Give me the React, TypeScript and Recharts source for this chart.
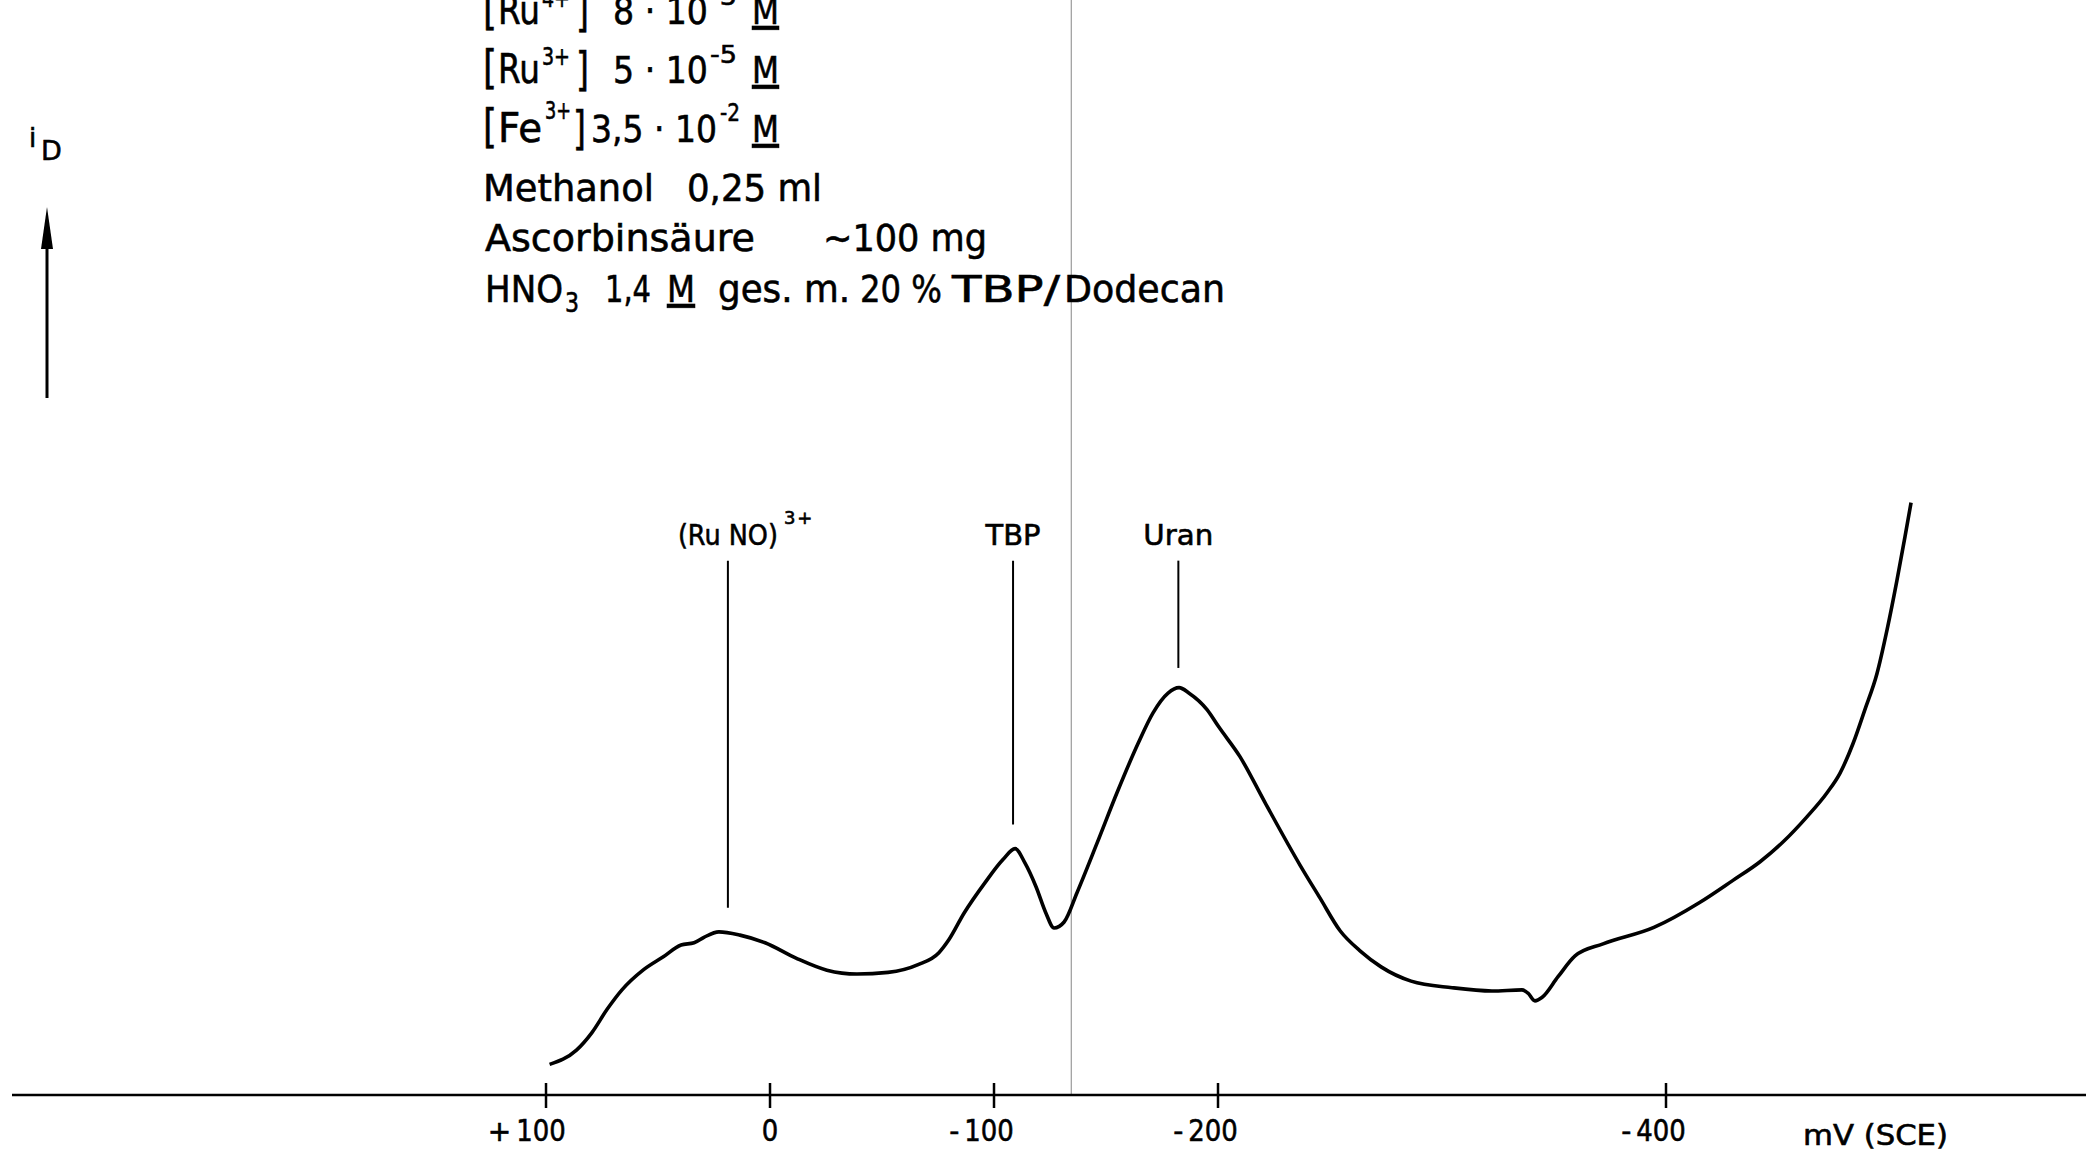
import React from 'react';
import { LineChart, Line, XAxis, YAxis, ReferenceLine, ReferenceDot } from 'recharts';

// Potential (mV vs SCE) and diffusion current i_D (arbitrary units, 0..100)
const potential = [
  98.4, 86.4, 79.5, 72.8, 66.1, 56.7, 47.8, 39.7, 33.9, 29.5, 22.8, 13.4, 2.2, -11.6, -25.4, -38.8,
  -52.7, -66.1, -75.4, -79.9, -86.6, -96.0, -104.0, -109.4, -113.8, -118.8, -123.2, -126.8, -131.3,
  -137.1, -146.0, -154.9, -164.3, -171.0, -177.7, -182.6, -187.1, -195.1, -200.4, -209.8, -221.0,
  -236.6, -245.5, -254.5, -263.8, -272.8, -286.2, -304.5, -322.3, -335.7, -338.4, -341.5, -344.6,
  -351.8, -359.4, -371.9, -394.6, -415.2, -429.9, -442.0, -452.2, -462.9, -471.9, -477.7, -483.5,
  -488.8, -494.2, -498.7, -503.1, -506.7, -509.4,
];
const current = [
  2.8, 4.1, 5.7, 7.8, 9.6, 11.4, 12.6, 13.7, 13.9, 14.4, 14.9, 14.6, 13.9, 12.5, 11.4, 11.05,
  11.2, 11.9, 13.0, 14.2, 16.6, 19.4, 21.5, 22.5, 21.2, 19.0, 16.6, 15.25, 15.8,
  18.5, 23.0, 27.6, 32.1, 34.9, 36.7, 37.2, 36.7, 35.2, 33.6, 30.9, 26.7,
  21.0, 18.0, 15.0, 13.1, 11.7, 10.4, 9.8, 9.5, 9.6, 9.3, 8.6, 8.9,
  10.8, 12.7, 13.8, 15.3, 17.6, 19.6, 21.3, 23.1, 25.4, 27.6, 29.4, 32.1,
  35.2, 38.5, 42.5, 47.0, 51.0, 54.1,
];

const xTicks = [100, 0, -100, -200, -400];
const xTickLabels = ['+100', '0', '-100', '-200', '-400'];

const peakNames = ['(Ru NO)', 'TBP', 'Uran'];
const peakSup = ['3+', '', ''];
const peakPotential = [18.8, -108.5, -182.3];
const peakLineBottom = [17.1, 24.7, 39.0];
const peakLineTop = 48.8;
const peakLabelLevel = 50.2;

const scanLinePotential = -134.5;

const data = potential.map((E, k) => ({ E, i: current[k] }));

const FONT = '"DejaVu Sans", "Liberation Sans", "Open Sans", sans-serif';
const HEAVY = { stroke: '#000', strokeWidth: 0.6 };

const W = 2086;
const H = 1158;

const AxisTick = (props: any) => {
  const { x, y, payload } = props;
  const idx = xTicks.indexOf(payload.value);
  const label = idx >= 0 ? xTickLabels[idx] : String(payload.value);
  const hasSign = label[0] === '+' || label[0] === '-';
  const sign = hasSign ? label[0] : '';
  const digits = hasSign ? label.slice(1) : label;
  const w = digits.length * 16.5;
  const cx = x - (hasSign ? 5 : 0);
  return (
    <g>
      <line x1={x} x2={x} y1={y - 12} y2={y + 13} stroke="#000" strokeWidth={2.5} />
      <text
        x={cx - w / 2}
        y={y + 46}
        textLength={w}
        lengthAdjust="spacingAndGlyphs"
        fontSize={31}
        fontFamily={FONT}
        fill="#000"
        {...HEAVY}
      >
        {digits}
      </text>
      {hasSign && (
        <text x={cx - w / 2 - 5} y={y + 46} textAnchor="end" fontSize={28} fontFamily={FONT} fill="#000" {...HEAVY}>
          {sign}
        </text>
      )}
    </g>
  );
};

const PeakLabel = (k: number) => (props: any) => {
  const { cx, cy } = props;
  const name = peakNames[k];
  const sup = peakSup[k];
  const widths = [100, 55, 70];
  const w = widths[k];
  return (
    <g>
      <text
        x={cx - w / 2}
        y={cy}
        textLength={w}
        lengthAdjust="spacingAndGlyphs"
        fontSize={29}
        fontFamily={FONT}
        fill="#000"
        {...HEAVY}
      >
        {name}
      </text>
      {sup && (
        <text x={cx + w / 2 + 6} y={cy - 21} fontSize={18} fontFamily={FONT} fill="#000" letterSpacing={2} {...HEAVY}>
          {sup}
        </text>
      )}
    </g>
  );
};

// a text run forced to a measured width
const Run = ({ x, y, w, size = 38, children, underline = false }: any) => (
  <text
    x={x}
    y={y}
    textLength={w}
    lengthAdjust="spacingAndGlyphs"
    fontSize={size}
    fontFamily={FONT}
    fill="#000"
    {...HEAVY}
    style={underline ? { textDecoration: 'underline' } : undefined}
  >
    {children}
  </text>
);

const Overlay = () => (
  <svg width={W} height={H} style={{ position: 'absolute', left: 0, top: 0, pointerEvents: 'none' }}>
    {/* line 1 (cut at top) */}
    <Run x={483} y={24} w={14} size={46}>[</Run>
    <Run x={498} y={24} w={42} size={40}>Ru</Run>
    <Run x={542} y={7} w={28} size={25}>4+</Run>
    <Run x={576} y={26} w={13} size={46}>]</Run>
    <Run x={613} y={24} w={95} size={38}>8 · 10</Run>
    <Run x={710} y={5} w={27} size={25}>-5</Run>
    <Run x={752} y={24} w={27} size={38} underline>M</Run>

    {/* line 2 */}
    <Run x={483} y={83} w={14} size={46}>[</Run>
    <Run x={498} y={83} w={42} size={40}>Ru</Run>
    <Run x={542} y={65} w={28} size={25}>3+</Run>
    <Run x={576} y={85} w={13} size={46}>]</Run>
    <Run x={613} y={83} w={95} size={38}>5 · 10</Run>
    <Run x={710} y={63} w={27} size={25}>-5</Run>
    <Run x={752} y={83} w={27} size={38} underline>M</Run>

    {/* line 3 */}
    <Run x={483} y={142} w={14} size={46}>[</Run>
    <Run x={498} y={142} w={44} size={40}>Fe</Run>
    <Run x={545} y={119} w={26} size={25}>3+</Run>
    <Run x={573} y={144} w={13} size={46}>]</Run>
    <Run x={591} y={142} w={126} size={38}>3,5 · 10</Run>
    <Run x={720} y={121} w={20} size={25}>-2</Run>
    <Run x={752} y={142} w={27} size={38} underline>M</Run>

    {/* line 4 */}
    <Run x={483} y={201} w={171}>Methanol</Run>
    <Run x={687} y={201} w={135}>0,25 ml</Run>

    {/* line 5 */}
    <Run x={485} y={251} w={270}>Ascorbinsäure</Run>
    <Run x={823} y={251} w={164}>∼100 mg</Run>

    {/* line 6 */}
    <Run x={485} y={302} w={78}>HNO</Run>
    <Run x={565} y={312} w={14} size={26}>3</Run>
    <Run x={605} y={302} w={46}>1,4</Run>
    <Run x={667} y={302} w={28} underline>M</Run>
    <Run x={718} y={302} w={132}>ges. m.</Run>
    <Run x={860} y={302} w={82}>20 %</Run>
    <Run x={952} y={302} w={108}>TBP/</Run>
    <Run x={1064} y={302} w={161}>Dodecan</Run>

    {/* i_D with arrow */}
    <text x={29} y={147} fontSize={26} fontFamily={FONT} fill="#000" {...HEAVY}>i</text>
    <text x={41} y={160} fontSize={27} fontFamily={FONT} fill="#000" {...HEAVY}>D</text>
    <line x1={47} x2={47} y1={240} y2={398} stroke="#000" strokeWidth={3} />
    <polygon points="47,207 41,249 53,249" fill="#000" />

    {/* axis unit */}
    <Run x={1803} y={1145} w={145} size={28}>mV (SCE)</Run>
  </svg>
);

export default function App() {
  return (
    <div style={{ position: 'fixed', left: 0, top: 0, width: W, height: H, background: '#fff' }}>
      <div style={{ position: 'absolute', left: 0, top: 0 }}>
        <LineChart width={W} height={H} data={data} margin={{ top: 0, right: 0, bottom: 0, left: 12 }}>
          <XAxis
            dataKey="E"
            type="number"
            domain={[-587.5, 338.4]}
            reversed
            allowDataOverflow
            ticks={xTicks}
            interval={0}
            height={63}
            tickSize={0}
            tickMargin={0}
            tickLine={false}
            axisLine={{ stroke: '#000', strokeWidth: 2.5 }}
            tick={<AxisTick />}
          />
          <YAxis
            type="number"
            domain={[0, 100]}
            allowDataOverflow
            width={0}
            tick={false}
            tickLine={false}
            axisLine={{ stroke: '#000', strokeWidth: 2.5 }}
          />
          <ReferenceLine x={scanLinePotential} stroke="#9a9a9a" strokeWidth={1.2} />
          {peakPotential.map((E, k) => (
            <ReferenceLine
              key={'pl' + k}
              segment={[
                { x: E, y: peakLineBottom[k] },
                { x: E, y: peakLineTop },
              ]}
              stroke="#000"
              strokeWidth={2}
            />
          ))}
          {peakPotential.map((E, k) => (
            <ReferenceDot key={'pd' + k} x={E} y={peakLabelLevel} r={0} shape={PeakLabel(k)} />
          ))}
          <Line
            type="monotone"
            dataKey="i"
            stroke="#000"
            strokeWidth={3.6}
            dot={false}
            isAnimationActive={false}
          />
        </LineChart>
      </div>
      <Overlay />
    </div>
  );
}
